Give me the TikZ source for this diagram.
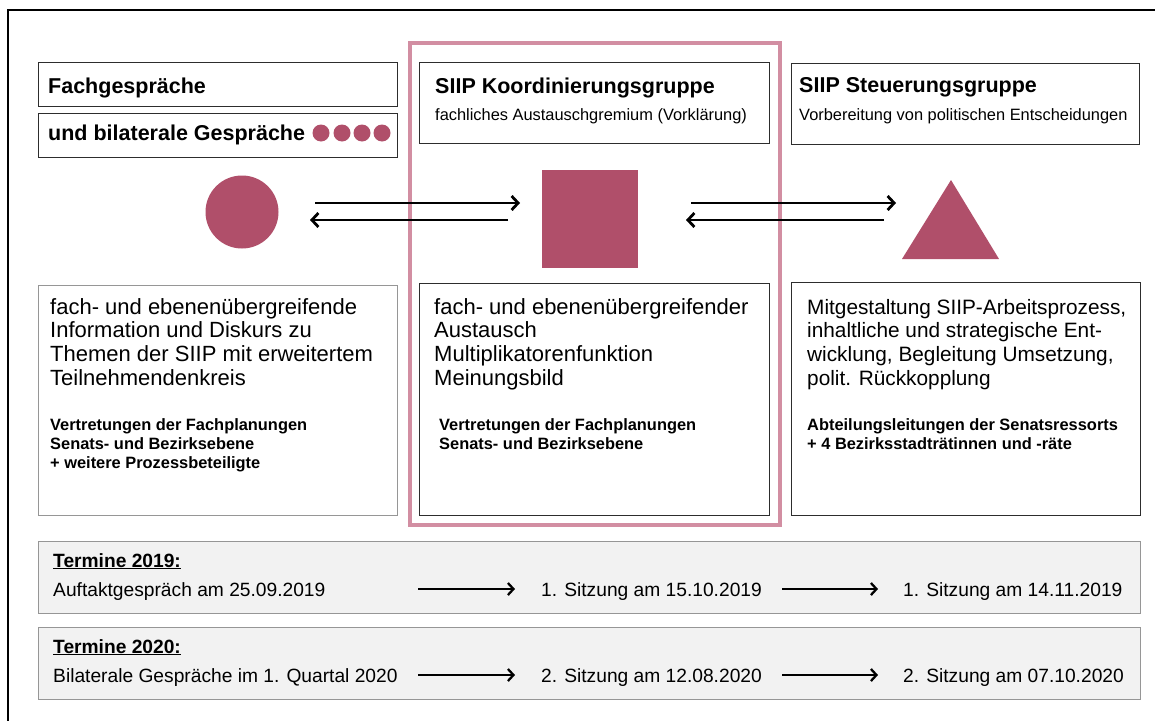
\documentclass[tikz,border=0pt]{standalone}
\usepackage{fontspec}
\setmainfont{Liberation Sans}
\usetikzlibrary{arrows.meta}

\definecolor{mag}{RGB}{176,79,106}
\definecolor{pinkline}{RGB}{210,142,162}
\definecolor{boxdark}{RGB}{45,45,45}
\definecolor{boxgray}{RGB}{150,150,150}
\definecolor{termfill}{RGB}{242,242,242}
\definecolor{termline}{RGB}{150,150,150}

% left-aligned stack of lines; the block's baseline is that of its first line
\newcommand\txtblock[1]{\vtop{\halign{##\hfil\cr#1\crcr}}}

\begin{document}
\begin{tikzpicture}[x=1pt,y=-1pt,
  panel/.style={draw=boxdark, line width=1.3pt, anchor=north west, inner sep=0pt, fill=white},
  panelgray/.style={panel, draw=boxgray},
  termbox/.style={draw=termline, fill=termfill, line width=1.4pt, anchor=north west, inner sep=0pt},
  txt/.style={anchor=base west, inner sep=0pt},
  htitle/.style={txt, font=\fontsize{21.5}{24}\selectfont\bfseries},
  hsub/.style={txt, font=\fontsize{16.4}{19}\selectfont},
  body/.style={txt, font=\fontsize{22}{23.7}\selectfont},
  bodyR/.style={txt, font=\fontsize{20.8}{23.7}\selectfont},
  who/.style={txt, font=\fontsize{16.4}{19}\selectfont\bfseries},
  termtxt/.style={txt, font=\fontsize{19.2}{22}\selectfont},
  termhead/.style={txt, font=\fontsize{19.2}{22}\selectfont\bfseries},
  symb/.style={fill=mag, draw=none, inner sep=0pt},
  flow/.style={line width=2.8pt, -{Straight Barb[length=6.5pt, width=14pt, line width=2.8pt]}},
  tflow/.style={line width=2.3pt, -{Straight Barb[length=5.5pt, width=12pt, line width=2.3pt]}}
]
\useasboundingbox (0,0) rectangle (1155,720);
\fill[white] (0,0) rectangle (1155,720);

% outer frame (runs off the right and bottom edges)
\draw[line width=2pt] (8,730) -- (8,10) -- (1165,10);

% highlighted column: Koordinierungsgruppe
\node[draw=pinkline, line width=4pt, anchor=north west, inner sep=0pt,
      minimum width=370, minimum height=482] (koord) at (408,41) {};

% header panels
\node[panel, minimum width=359, minimum height=44] (fachA) at (38,62) {};
\node[panel, minimum width=359, minimum height=44] (fachB) at (38,113) {};
\node[panel, minimum width=350, minimum height=81] (koordH) at (419,62) {};
\node[panel, minimum width=348, minimum height=81] (steuH) at (791,63) {};

\node[htitle] (tFach) at (48,93) {Fachgespräche};
\node[htitle] (tBil) at (48,140) {und bilaterale Gespräche};
\foreach \x in {321,342,362,382}
  \fill[mag] (\x,133) circle[radius=8.5];
\node[htitle] (tKoord) at (435,93) {SIIP Koordinierungsgruppe};
\node[hsub] (sKoord) at (435,120) {fachliches Austauschgremium (Vorklärung)};
\node[htitle] (tSteu) at (799,92) {SIIP Steuerungsgruppe};
\node[hsub] (sSteu) at (799,120) {Vorbereitung von politischen Entscheidungen};

% symbols
\node[symb, circle, minimum size=73] (circ) at (242,212) {};
\node[symb, rectangle, minimum width=96, minimum height=98] (sq) at (590,219) {};
\fill[mag] (951,180) -- (999,259) -- (902,259) -- cycle;

% exchange arrows
\coordinate (a1s) at (315,203); \coordinate (a1e) at (520,203);
\coordinate (a2s) at (508,220); \coordinate (a2e) at (310,220);
\coordinate (a3s) at (691,203); \coordinate (a3e) at (896,203);
\coordinate (a4s) at (884,220); \coordinate (a4e) at (686,220);
\draw[flow] (a1s) -- (a1e);
\draw[flow] (a2s) -- (a2e);
\draw[flow] (a3s) -- (a3e);
\draw[flow] (a4s) -- (a4e);

% description panels
\node[panelgray, minimum width=359, minimum height=230] (infoL) at (38,285) {};
\node[panel, minimum width=350, minimum height=232] (infoM) at (419,283) {};
\node[panel, minimum width=349, minimum height=233] (infoR) at (791,282) {};

\node[body] (bL) at (50,314) {\txtblock{fach- und ebenenübergreifende\cr
  Information und Diskurs zu\cr Themen der SIIP mit erweitertem\cr Teilnehmendenkreis}};
\node[body] (bM) at (434,314) {\txtblock{fach- und ebenenübergreifender\cr
  Austausch\cr Multiplikatorenfunktion\cr Meinungsbild}};
\node[bodyR] (bR) at (807,314) {\txtblock{Mitgestaltung SIIP-Arbeitsprozess,\cr
  inhaltliche und strategische Ent-\cr wicklung, Begleitung Umsetzung,\cr polit. Rückkopplung}};

\node[who] (wL) at (50,430) {\txtblock{Vertretungen der Fachplanungen\cr
  Senats- und Bezirksebene\cr + weitere Prozessbeteiligte}};
\node[who] (wM) at (439,430) {\txtblock{Vertretungen der Fachplanungen\cr
  Senats- und Bezirksebene}};
\node[who] (wR) at (807,430) {\txtblock{Abteilungsleitungen der Senatsressorts\cr
  + 4 Bezirksstadträtinnen und -räte}};

% schedule
\node[termbox, minimum width=1102, minimum height=72] (t19) at (38,541) {};
\node[termbox, minimum width=1102, minimum height=72] (t20) at (38,627) {};

\node[termhead] (h19) at (53,567) {\underline{Termine 2019:}};
\node[termtxt] (d19a) at (53,596) {Auftaktgespräch am 25.09.2019};
\node[termtxt] (d19b) at (541,596) {1. Sitzung am 15.10.2019};
\node[termtxt] (d19c) at (903,596) {1. Sitzung am 14.11.2019};

\node[termhead] (h20) at (53,653) {\underline{Termine 2020:}};
\node[termtxt] (d20a) at (53,682) {Bilaterale Gespräche im 1. Quartal 2020};
\node[termtxt] (d20b) at (541,682) {2. Sitzung am 12.08.2020};
\node[termtxt] (d20c) at (903,682) {2. Sitzung am 07.10.2020};

\coordinate (r1a) at (418,589); \coordinate (r1b) at (515,589);
\coordinate (r1c) at (782,589); \coordinate (r1d) at (878,589);
\coordinate (r2a) at (418,675); \coordinate (r2b) at (515,675);
\coordinate (r2c) at (782,675); \coordinate (r2d) at (878,675);
\draw[tflow] (r1a) -- (r1b);
\draw[tflow] (r1c) -- (r1d);
\draw[tflow] (r2a) -- (r2b);
\draw[tflow] (r2c) -- (r2d);
\end{tikzpicture}
\end{document}
